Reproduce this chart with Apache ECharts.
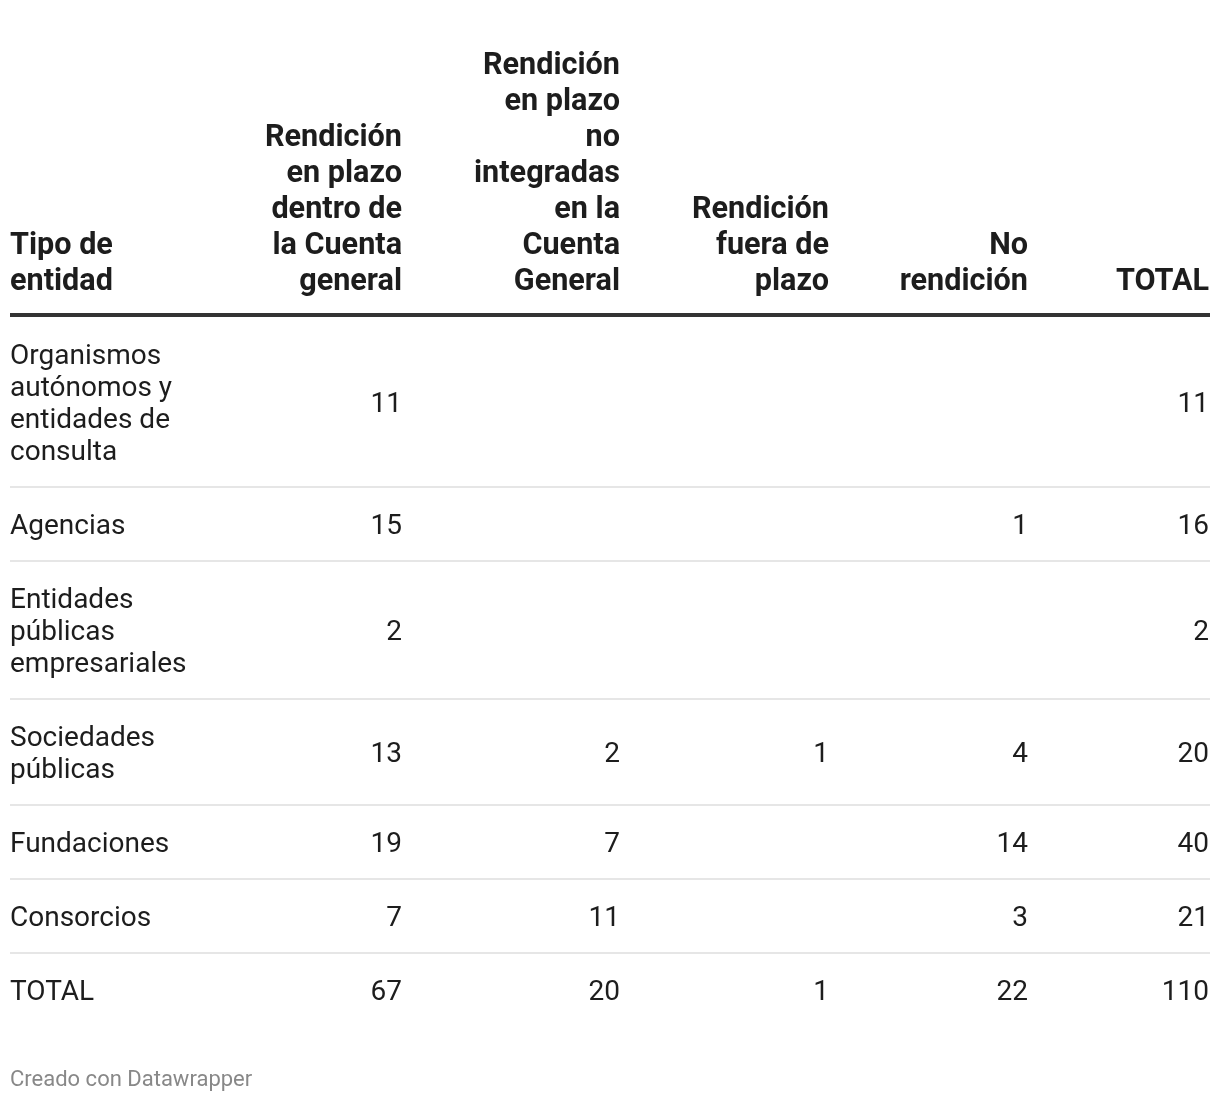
<!DOCTYPE html>
<html><head><meta charset="utf-8">
<script src="https://cdn.jsdelivr.net/npm/echarts@6/dist/echarts.min.js"></script>
<style>html,body{margin:0;padding:0;background:#fff}#c{width:1220px;height:1102px}</style>
</head><body><div id="c"></div>
<script>
const headers = ["Tipo de\nentidad", "Rendición\nen plazo\ndentro de\nla Cuenta\ngeneral", "Rendición\nen plazo\nno\nintegradas\nen la\nCuenta\nGeneral", "Rendición\nfuera de\nplazo", "No\nrendición", "TOTAL"];
const categories = ["Organismos\nautónomos y\nentidades de\nconsulta", "Agencias", "Entidades\npúblicas\nempresariales", "Sociedades\npúblicas", "Fundaciones", "Consorcios", "TOTAL"];
const enPlazoCuenta = [11, 15, 2, 13, 19, 7, 67];
const enPlazoNoIntegradas = [null, null, null, 2, 7, 11, 20];
const fueraPlazo = [null, null, null, 1, null, null, 1];
const noRendicion = [null, 1, null, 4, 14, 3, 22];
const total = [11, 16, 2, 20, 40, 21, 110];
const footer = "Creado con Datawrapper";

const columns = [enPlazoCuenta, enPlazoNoIntegradas, fueraPlazo, noRendicion, total];
const colRight = [402, 620, 829, 1028, 1209];
const left = 10, right = 1210;
const headerBottom = 300, headerLH = 36, ruleY = 315;
const baseRow = 74, bodyLH = 32;
const font = 'Roboto, "Noto Sans", sans-serif';

const g = [];
headers.forEach((h, i) => {
  const lines = h.split("\n");
  lines.forEach((ln, k) => {
    const cy = headerBottom - 18 - (lines.length - 1 - k) * headerLH;
    g.push({type: 'text', x: i === 0 ? left : colRight[i - 1], y: cy,
      style: {text: ln, font: 'bold 30.6px ' + font, fill: '#1d1d1d',
        textAlign: i === 0 ? 'left' : 'right', textVerticalAlign: 'middle'}});
  });
});
g.push({type: 'rect', shape: {x: left, y: ruleY - 2, width: right - left, height: 4}, style: {fill: '#333333'}});
let y = ruleY + 2;
categories.forEach((c, r) => {
  const lines = c.split("\n");
  const h = baseRow + (lines.length - 1) * bodyLH;
  const cy = y + h / 2 + 3;
  lines.forEach((ln, k) => {
    g.push({type: 'text', x: left, y: cy + (k - (lines.length - 1) / 2) * bodyLH,
      style: {text: ln, font: '28px ' + font, fill: '#1d1d1d', textAlign: 'left', textVerticalAlign: 'middle'}});
  });
  columns.forEach((col, j) => {
    if (col[r] != null) {
      g.push({type: 'text', x: colRight[j], y: cy,
        style: {text: String(col[r]), font: '28px ' + font, fill: '#1d1d1d', textAlign: 'right', textVerticalAlign: 'middle'}});
    }
  });
  y += h;
  if (r < categories.length - 1) {
    g.push({type: 'rect', shape: {x: left, y: y - 1, width: right - left, height: 2}, style: {fill: '#e6e6e6'}});
  }
});
g.push({type: 'text', x: left, y: 1080, style: {text: footer, font: '22px ' + font, fill: '#888888', textAlign: 'left', textVerticalAlign: 'middle'}});

const chart = echarts.init(document.getElementById('c'), null, {renderer: 'canvas'});
chart.setOption({animation: false, backgroundColor: '#ffffff', graphic: {elements: g}});
</script></body></html>
